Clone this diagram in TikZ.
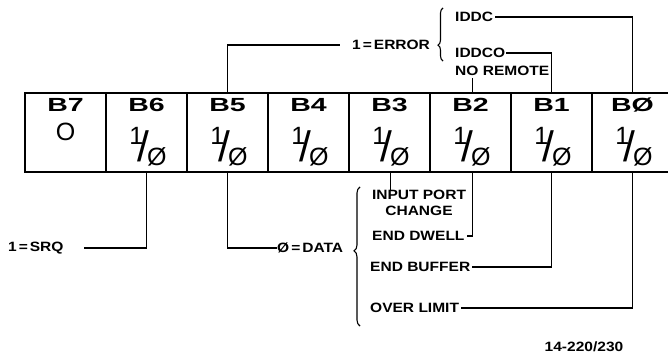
\documentclass[tikz,border=0pt]{standalone}
\usepackage{graphicx}
\usepackage{fontspec}
\setmainfont{Liberation Sans}
\newfontfamily\labfont[FakeStretch=1.15]{Liberation Sans}
\newfontfamily\hdrfont[FakeStretch=1.5]{Liberation Sans}
\newfontfamily\valfont{Liberation Sans}
\usetikzlibrary{decorations.pathreplacing}
\newcommand\onezero{\rlap{\kern8.5pt\raisebox{-7pt}{\scalebox{1.7}[1.7]{/}}}\raisebox{10pt}{1}\kern4pt\raisebox{-11pt}{Ø}}
\begin{document}
\begin{tikzpicture}[x=1pt,y=-1pt,
 cell/.style={draw,line width=1.5pt,minimum width=81pt,minimum height=79pt,inner sep=0pt,outer sep=0pt},
 hdr/.style={inner sep=0pt,font=\hdrfont\bfseries\fontsize{19}{19}\selectfont},
 val/.style={inner sep=0pt,font=\valfont\fontsize{25}{25}\selectfont},
 lab/.style={inner sep=0pt,font=\labfont\bfseries\fontsize{13.5}{14}\selectfont},
 wire/.style={line width=1.3pt},
 curly/.style={line width=1.1pt,decorate}
]
\useasboundingbox (0,0) rectangle (668,358);
% register cells
\foreach \n/\x in {7/65.5,6/146.5,5/227.5,4/308.5,3/389.5,2/470.5,1/551.5,0/632.5}{
  \node[cell] (c\n) at (\x,132.5) {};
}
\node[hdr] (h7) at (65.5,105) {B7};
\node[hdr] (h6) at (146.5,105) {B6};
\node[hdr] (h5) at (227.5,105) {B5};
\node[hdr] (h4) at (308.5,105) {B4};
\node[hdr] (h3) at (389.5,105) {B3};
\node[hdr] (h2) at (470.5,105) {B2};
\node[hdr] (h1) at (551.5,105) {B1};
\node[hdr] (h0) at (632.5,105) {BØ};
\node[val] (v7) at (65.5,132) {O};
\node[val] (v6) at (148,146.5) {\onezero};
\node[val] (v5) at (229,146.5) {\onezero};
\node[val] (v4) at (310,146.5) {\onezero};
\node[val] (v3) at (391,146.5) {\onezero};
\node[val] (v2) at (472,146.5) {\onezero};
\node[val] (v1) at (553,146.5) {\onezero};
\node[val] (v0) at (634,146.5) {\onezero};
% top labels
\node[lab,anchor=west] (err) at (352,45) {1\kern2pt=\kern2pt ERROR};
\node[lab,anchor=west] (iddc) at (455,17) {IDDC};
\node[lab,anchor=west] (iddco) at (455,53) {IDDCO};
\node[lab,anchor=west] (norem) at (455,71) {NO REMOTE};
% bottom labels
\node[lab,anchor=west] (srq) at (8,248) {1\kern2pt=\kern2pt SRQ};
\node[lab,anchor=west] (data) at (277,248) {Ø\kern2pt=\kern2pt DATA};
\node[lab] (inport) at (419,195) {INPUT PORT};
\node[lab] (change) at (419,211) {CHANGE};
\node[lab,anchor=west] (dwell) at (372,236) {END DWELL};
\node[lab,anchor=west] (buffer) at (370,267) {END BUFFER};
\node[lab,anchor=west] (over) at (370,308) {OVER LIMIT};
\node[lab] (refno) at (584,347) {14-220/230};
% braces
\draw[curly,decoration={brace,amplitude=5pt,aspect=0.3}] (443,61) -- (443,8);
\draw[curly,decoration={brace,amplitude=6pt,aspect=0.54}] (360,326) -- (360,187);
% connectors top
\draw[wire] (c5.north) |- ([xshift=-12pt]err.west);
\draw[wire] ([xshift=2pt]iddc.east) -| (c0.north);
\draw[wire] ([xshift=1pt]iddco.east) -| (c1.north);
\draw[wire] (norem.south -| c2.north) ++(2,2) -- ([xshift=2pt]c2.north);
% connectors bottom
\draw[wire] (c6.south) |- ([xshift=20pt]srq.east);
\draw[wire] (c5.south) |- (data.west);
\draw[wire] ([xshift=1pt]c3.south) -- ([xshift=1pt]c3.south |- inport.north);
\draw[wire] ([xshift=2pt]c2.south) |- ([xshift=2pt]dwell.east);
\draw[wire] (c1.south) |- ([xshift=2pt]buffer.east);
\draw[wire] (c0.south) |- ([xshift=2pt]over.east);
\end{tikzpicture}
\end{document}
